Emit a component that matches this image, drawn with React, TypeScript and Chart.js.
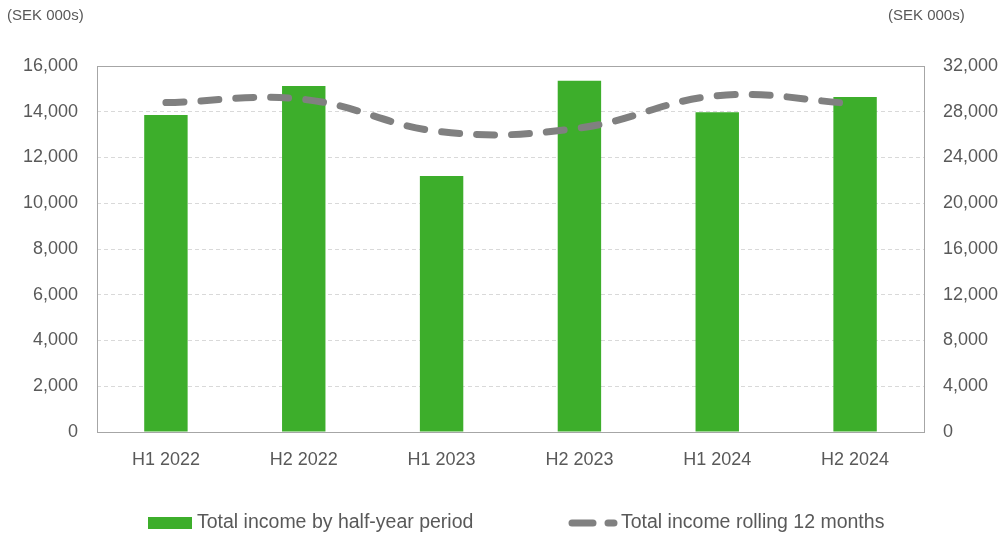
import React, { useEffect, useRef } from "react";
import { Chart, registerables } from "chart.js";

Chart.register(...registerables);

const categories = ["H1 2022", "H2 2022", "H1 2023", "H2 2023", "H1 2024", "H2 2024"];
const halfYearIncome = [13860, 15130, 11190, 15360, 13980, 14650];
const rolling12 = [28800, 29080, 26250, 26580, 29400, 28700];
const leftTicks = [0, 2000, 4000, 6000, 8000, 10000, 12000, 14000, 16000];
const rightTicks = [0, 4000, 8000, 12000, 16000, 20000, 24000, 28000, 32000];
const barLabel = "Total income by half-year period";
const lineLabel = "Total income rolling 12 months";
const unitLabel = "(SEK 000s)";

const FONT = "'Liberation Sans', Arial, sans-serif";
const TEXT = "#595959";
const GREEN = "#3dae2b";
const GRAY = "#808080";

const fmt = (v: number) => v.toLocaleString("en-US");

export default function App() {
  const ref = useRef<HTMLCanvasElement | null>(null);

  useEffect(() => {
    if (!ref.current) return;
    const boxPlugin = {
      id: "boxPlugin",
      beforeDatasetsDraw(chart: any) {
        const { ctx, chartArea } = chart;
        ctx.save();
        ctx.strokeStyle = "#a6a6a6";
        ctx.lineWidth = 1;
        ctx.strokeRect(
          Math.round(chartArea.left) + 0.5,
          Math.round(chartArea.top) + 0.5,
          Math.round(chartArea.right - chartArea.left),
          Math.round(chartArea.bottom - chartArea.top)
        );
        ctx.restore();
      },
      afterDraw(chart: any) {
        const { ctx } = chart;
        ctx.save();
        ctx.fillStyle = TEXT;
        ctx.font = `15px ${FONT}`;
        ctx.textBaseline = "middle";
        ctx.textAlign = "left";
        ctx.fillText(unitLabel, 7, 16);
        ctx.fillText(unitLabel, 888, 16);
        // legend
        const ly = 523;
        ctx.fillStyle = GREEN;
        ctx.fillRect(148, 517, 44, 12);
        ctx.fillStyle = TEXT;
        ctx.font = `19.5px ${FONT}`;
        ctx.fillText(barLabel, 197, ly);
        ctx.strokeStyle = GRAY;
        ctx.lineWidth = 7;
        ctx.lineCap = "round";
        ctx.beginPath();
        ctx.moveTo(572, ly);
        ctx.lineTo(593, ly);
        ctx.moveTo(608, ly);
        ctx.lineTo(614, ly);
        ctx.stroke();
        ctx.fillText(lineLabel, 621, ly);
        ctx.restore();
      },
    };

    const chart = new Chart(ref.current, {
      type: "bar",
      data: {
        labels: categories,
        datasets: [
          {
            type: "line",
            label: lineLabel,
            data: rolling12,
            yAxisID: "y1",
            borderColor: GRAY,
            borderWidth: 7,
            borderDash: [18, 17],
            borderCapStyle: "round",
            pointRadius: 0,
            tension: 0.4,
            fill: false,
            order: 0,
          } as any,
          {
            type: "bar",
            label: barLabel,
            data: halfYearIncome,
            yAxisID: "y",
            backgroundColor: GREEN,
            categoryPercentage: 1,
            barPercentage: 0.315,
            order: 1,
          },
        ],
      },
      options: {
        responsive: false,
        animation: false,
        layout: { padding: { top: 66, left: 0, right: 0, bottom: 0 } },
        plugins: { legend: { display: false }, tooltip: { enabled: false } },
        scales: {
          x: {
            grid: { display: false, drawTicks: false },
            border: { display: false },
            ticks: { color: TEXT, font: { family: FONT, size: 18 }, padding: 17 },
            afterFit(scale: any) {
              scale.height = 103;
            },
          },
          y: {
            position: "left",
            min: 0,
            max: 16000,
            afterBuildTicks(scale: any) {
              scale.ticks = leftTicks.map((v) => ({ value: v }));
            },
            grid: { color: "#d9d9d9", lineWidth: 1, drawTicks: false },
            border: { display: false, dash: [4, 3] },
            ticks: {
              color: TEXT,
              font: { family: FONT, size: 18 },
              padding: 19,
              callback: (v: any) => fmt(Number(v)),
            },
            afterFit(scale: any) {
              scale.width = 97;
            },
          },
          y1: {
            position: "right",
            min: 0,
            max: 32000,
            afterBuildTicks(scale: any) {
              scale.ticks = rightTicks.map((v) => ({ value: v }));
            },
            grid: { display: false, drawTicks: false },
            border: { display: false },
            ticks: {
              color: TEXT,
              font: { family: FONT, size: 18 },
              padding: 19,
              callback: (v: any) => fmt(Number(v)),
            },
            afterFit(scale: any) {
              scale.width = 79;
            },
          },
        },
      },
      plugins: [boxPlugin],
    });
    return () => chart.destroy();
  }, []);

  return (
    <div style={{ position: "fixed", left: 0, top: 0, width: 1003, height: 535, background: "#fff" }}>
      <canvas ref={ref} width={1003} height={535} />
    </div>
  );
}
